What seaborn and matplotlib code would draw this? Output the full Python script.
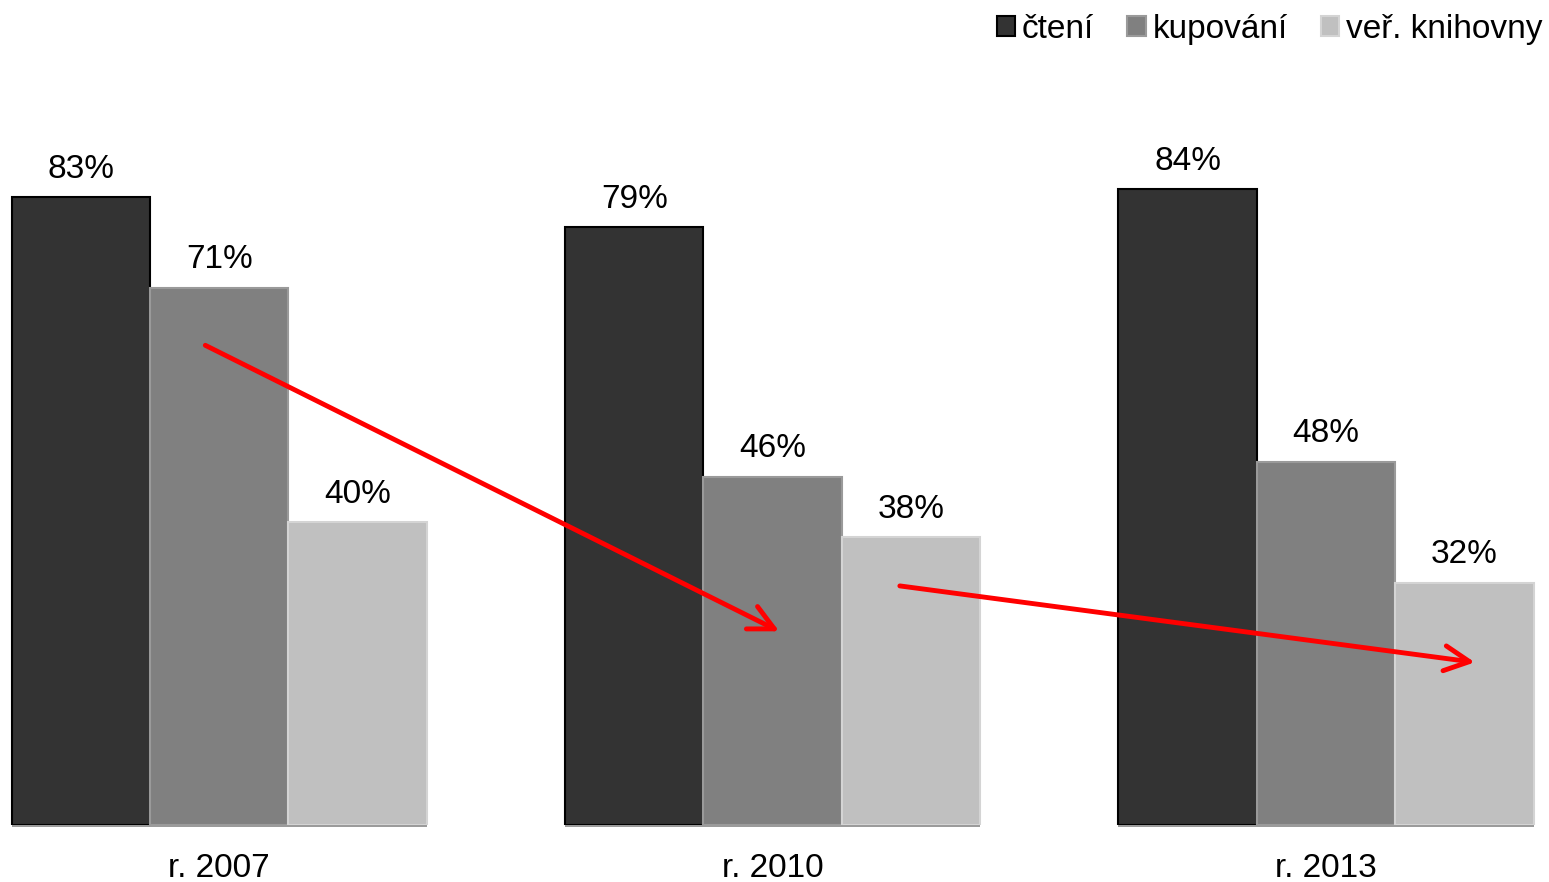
import pandas as pd
import seaborn as sns
import matplotlib.pyplot as plt

# Data
years = ['r. 2007', 'r. 2010', 'r. 2013']
series = ['čtení', 'kupování', 'veř. knihovny']
cteni = [83, 79, 84]
kupovani = [71, 46, 48]
knihovny = [40, 38, 32]

colors = ['#333333', '#808080', '#c0c0c0']
edges = ['#000000', '#9a9a9a', '#d4d4d4']

df = pd.DataFrame({
    'rok': years * 3,
    'skupina': [s for s in series for _ in years],
    'hodnota': cteni + kupovani + knihovny,
})

sns.set_style('white')
plt.rcParams['font.family'] = ['Liberation Sans', 'DejaVu Sans']
plt.rcParams['text.color'] = 'black'
plt.rcParams['xtick.color'] = 'black'

fig = plt.figure(figsize=(15.49, 8.82), dpi=100)
ax = fig.add_axes([0, 57 / 882, 1, (825 - 68.4) / 882])

sns.barplot(data=df, x='rok', y='hodnota', hue='skupina', order=years,
            hue_order=series, palette=colors, width=0.75, gap=0,
            saturation=1, ax=ax, legend=False)

# edge colours per series + value labels
for cont, ec in zip(ax.containers, edges):
    for bar in cont:
        bar.set_edgecolor(ec)
        bar.set_linewidth(1.5)
    ax.bar_label(cont, labels=[f'{v:.0f}%' for v in cont.datavalues],
                 padding=9, fontsize=24, color='black')

# short baseline under each group
for i in range(len(years)):
    ax.hlines(-0.15, i - 0.375, i + 0.375, color='#888888', lw=1.2, clip_on=False)

ax.set_xlim(-0.396, 2.403)
ax.set_ylim(0, 100)
ax.set_xlabel('')
ax.set_ylabel('')
ax.set_yticks([])
ax.tick_params(axis='x', length=0, labelsize=24, pad=20, labelcolor='black')
sns.despine(ax=ax, left=True, bottom=True)

# red trend arrows
arrow = dict(arrowstyle='->,head_length=0.9,head_width=0.45', color='red',
             lw=3.5, mutation_scale=20, shrinkA=0, shrinkB=0)
ax.annotate('', xy=(1.012, 25.6), xytext=(-0.025, 63.4), arrowprops=arrow)
ax.annotate('', xy=(2.269, 21.5), xytext=(1.23, 31.6), arrowprops=arrow)

# legend
handles = [plt.Rectangle((0, 0), 1, 1, facecolor=c, edgecolor=e, lw=1.5)
           for c, e in zip(colors, edges)]
fig.legend(handles, series, loc='upper right', bbox_to_anchor=(1.0065, 1.003),
           ncol=3, frameon=False, fontsize=24, handlelength=0.55,
           handleheight=0.55, handletextpad=0.2, columnspacing=1.0,
           borderaxespad=0.1, labelcolor='black')

plt.savefig('out.png', dpi=100)
